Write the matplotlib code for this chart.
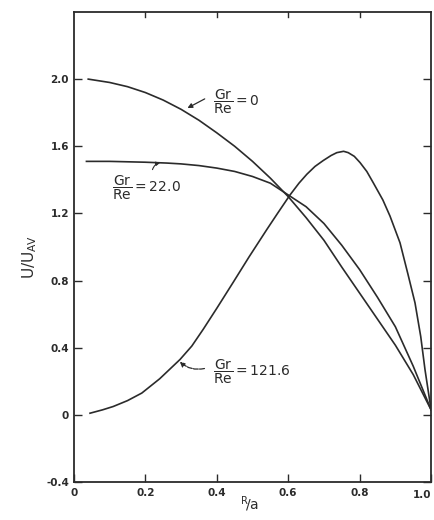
import matplotlib.pyplot as plt

# velocity profiles U/U_AV against R/a for three values of Gr/Re
r_0 = [0.04, 0.10, 0.15, 0.20, 0.25, 0.30, 0.35, 0.40, 0.45, 0.50, 0.55,
       0.60, 0.65, 0.70, 0.75, 0.80, 0.85, 0.90, 0.95, 1.00]
u_0 = [2.00, 1.98, 1.955, 1.92, 1.875, 1.82, 1.755, 1.68, 1.60, 1.51, 1.41,
       1.30, 1.175, 1.04, 0.88, 0.725, 0.57, 0.415, 0.24, 0.03]

r_22 = [0.035, 0.10, 0.20, 0.26, 0.30, 0.35, 0.40, 0.45, 0.50, 0.55, 0.60,
        0.65, 0.70, 0.75, 0.80, 0.85, 0.90, 0.95, 1.00]
u_22 = [1.51, 1.51, 1.505, 1.50, 1.495, 1.485, 1.47, 1.45, 1.42, 1.38, 1.31,
        1.24, 1.14, 1.01, 0.865, 0.70, 0.525, 0.29, 0.03]

r_121 = [0.045, 0.08, 0.11, 0.15, 0.19, 0.24, 0.297, 0.33, 0.362, 0.40, 0.446,
         0.49, 0.54, 0.57, 0.605, 0.63, 0.652, 0.675, 0.698, 0.72, 0.736,
         0.755, 0.768, 0.785, 0.801, 0.82, 0.838, 0.865, 0.885, 0.913, 0.935,
         0.955, 0.971, 0.983, 1.00]
u_121 = [0.01, 0.03, 0.05, 0.085, 0.13, 0.215, 0.33, 0.41, 0.51, 0.635, 0.79,
         0.94, 1.104, 1.20, 1.31, 1.38, 1.433, 1.48, 1.515, 1.545, 1.562,
         1.57, 1.562, 1.54, 1.503, 1.45, 1.383, 1.28, 1.184, 1.025, 0.84,
         0.667, 0.467, 0.269, 0.03]

xticks = [0, 0.2, 0.4, 0.6, 0.8, 1.0]
xticklabels = ["0", "0.2", "0.4", "0.6", "0.8", "1.0"]
yticks = [-0.4, 0, 0.4, 0.8, 1.2, 1.6, 2.0]
yticklabels = ["-0.4", "0", "0.4", "0.8", "1.2", "1.6", "2.0"]

ink = "#2b2b2b"
plt.rcParams["mathtext.fontset"] = "dejavusans"

fig = plt.figure(figsize=(4.35, 5.2), dpi=100)
ax = fig.add_axes([0.170, 0.073, 0.821, 0.904])

ax.plot(r_0, u_0, color=ink, lw=1.2)
ax.plot(r_22, u_22, color=ink, lw=1.2)
ax.plot(r_121, u_121, color=ink, lw=1.2)

ax.set_xlim(0, 1.0)
ax.set_ylim(-0.4, 2.4)
ax.set_xticks(xticks)
# the 1.0 label sits at the right edge, so it is drawn by hand below
ax.set_xticklabels(xticklabels[:-1] + [""])
ax.set_yticks(yticks)
ax.set_yticklabels(yticklabels)
ax.tick_params(direction="in", length=6, width=1.0, color=ink,
               labelsize=7.5, labelcolor=ink, top=False, right=True)
ax.tick_params(axis="x", pad=4)
for lab in ax.get_xticklabels() + ax.get_yticklabels():
    lab.set_fontweight("bold")
ax.text(1.0, -0.447, xticklabels[-1], fontsize=7.5, fontweight="bold",
        color=ink, ha="right", va="top")

# short inward ticks on the top edge (no tick at 1.0)
for x in xticks[1:-1]:
    ax.plot([x, x], [2.4, 2.37], color=ink, lw=1.0, clip_on=False)

for s in ax.spines.values():
    s.set_color(ink)
    s.set_linewidth(1.3)

fig.text(30 / 435, 1 - 257 / 520, r"$\mathrm{U/U_{AV}}$", fontsize=11,
         color=ink, rotation=90, ha="center", va="center")
fig.text(250 / 435, 1 - 504 / 520, r"$^{\mathrm{R}}\!/\mathrm{a}$", fontsize=10,
         color=ink, ha="center", va="center")

# curve labels
ax.text(0.39, 1.863, r"$\dfrac{\mathrm{Gr}}{\mathrm{Re}}\mathrm{=0}$",
        fontsize=10, color=ink, va="center")
ax.annotate("", xy=(0.311, 1.82), xytext=(0.373, 1.89),
            arrowprops=dict(arrowstyle="-|>", color=ink, lw=0.9,
                            mutation_scale=7))

ax.text(0.106, 1.355, r"$\dfrac{\mathrm{Gr}}{\mathrm{Re}}\mathrm{=22.0}$",
        fontsize=10, color=ink, va="center")
ax.annotate("", xy=(0.249, 1.504), xytext=(0.218, 1.445),
            arrowprops=dict(arrowstyle="-|>", color=ink, lw=0.8,
                            mutation_scale=6,
                            connectionstyle="arc3,rad=-0.4"))

ax.text(0.39, 0.257, r"$\dfrac{\mathrm{Gr}}{\mathrm{Re}}\mathrm{=121.6}$",
        fontsize=10, color=ink, va="center")
ax.annotate("", xy=(0.291, 0.328), xytext=(0.373, 0.28),
            arrowprops=dict(arrowstyle="-|>", color=ink, lw=0.9,
                            mutation_scale=7, linestyle=(0, (4, 1)),
                            connectionstyle="arc3,rad=-0.3"))

fig.savefig("out.png", dpi=100)
